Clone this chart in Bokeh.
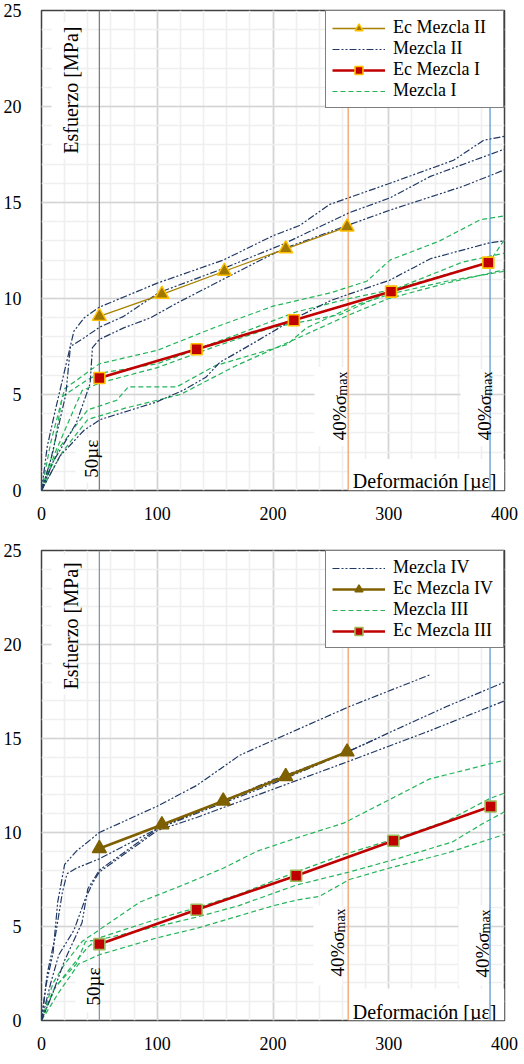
from math import pi
from bokeh.plotting import figure
from bokeh.models import Range1d, SingleIntervalTicker, Legend, LegendItem
from bokeh.layouts import column
from bokeh.core.properties import value
from bokeh.embed import file_html
from bokeh.resources import INLINE

SERIF = "Liberation Serif"

# ---------------- data: chart 1 ----------------
ec2_x = [50, 104, 158, 211, 264]
ec2_y = [9.07, 10.22, 11.42, 12.59, 13.73]
ec1_x = [50, 134, 218, 302, 386]
ec1_y = [5.86, 7.36, 8.87, 10.36, 11.87]

m2a_x = [0, 5, 12, 28, 37, 50, 100, 157, 200, 223, 249, 301, 356, 382, 400]
m2a_y = [0, 2.3, 4.2, 8.3, 9.0, 9.55, 10.8, 12.0, 13.27, 13.8, 14.9, 16.0, 17.2, 18.24, 18.45]
m2b_x = [0, 8, 21, 25, 37, 50, 71, 94, 101, 157, 209, 266, 301, 336, 400]
m2b_y = [0, 1.6, 5.0, 7.5, 7.96, 8.5, 9.07, 10.0, 10.3, 11.56, 12.84, 14.47, 15.24, 16.36, 17.78]
m2c_x = [0, 10, 30, 42, 44, 50, 71, 94, 117, 186, 209, 264, 301, 364, 400]
m2c_y = [0, 1.5, 3.5, 5.56, 7.44, 7.87, 8.47, 8.99, 9.76, 11.9, 12.59, 13.8, 14.6, 15.84, 16.7]
m2d_x = [0, 16, 37, 51, 99, 122, 142, 154, 186, 220, 250, 301, 336, 387, 400]
m2d_y = [0, 1.8, 3.15, 3.7, 4.6, 5.21, 5.9, 6.67, 7.78, 9.0, 9.9, 10.96, 12.07, 12.9, 13.0]

m1a_x = [0, 8, 20, 50, 100, 150, 200, 250, 281, 301, 344, 379, 400]
m1a_y = [0, 2.5, 5.3, 6.6, 7.3, 8.5, 9.6, 10.3, 10.9, 12.0, 13.0, 14.1, 14.3]
m1b_x = [0, 10, 18, 38, 50, 100, 168, 220, 266, 306, 364, 387, 400]
m1b_y = [0, 2.0, 4.9, 5.7, 6.1, 6.6, 8.1, 9.3, 10.0, 10.5, 11.5, 11.9, 13.07]
m1c_x = [0, 12, 35, 50, 100, 150, 200, 258, 307, 364, 400]
m1c_y = [0, 2.0, 5.2, 5.6, 6.4, 7.5, 8.5, 9.16, 10.53, 11.9, 12.36]
m1d_x = [0, 15, 40, 65, 75, 117, 150, 212, 229, 272, 304, 350, 400]
m1d_y = [0, 2.2, 4.2, 4.7, 5.4, 5.4, 6.5, 7.6, 8.47, 9.67, 10.27, 10.9, 11.42]
m1e_x = [0, 18, 40, 51, 73, 120, 168, 220, 260, 300, 350, 400]
m1e_y = [0, 2.0, 3.7, 3.9, 4.3, 5.0, 6.5, 7.9, 9.0, 10.0, 10.8, 11.5]

# ---------------- data: chart 2 ----------------
ec4_x = [50, 104, 157, 211, 264]
ec4_y = [9.15, 10.41, 11.68, 12.98, 14.29]
ec3_x = [50, 134, 220, 304, 388]
ec3_y = [4.06, 5.89, 7.70, 9.56, 11.38]

m4a_x = [0, 4, 10, 14, 20, 30, 50, 100, 134, 171, 200, 266, 336]
m4a_y = [0, 1.9, 3.6, 6.3, 8.3, 9.0, 10.0, 11.4, 12.5, 14.1, 14.9, 16.7, 18.4]
m4b_x = [0, 5, 12, 18, 22, 30, 50, 100, 150, 200, 265, 300, 350, 400]
m4b_y = [0, 2.5, 4.5, 6.8, 7.8, 8.1, 8.6, 10.2, 11.5, 12.8, 14.3, 15.3, 16.7, 18.0]
m4c_x = [0, 8, 15, 28, 38, 45, 50, 100, 134, 200, 266, 335, 400]
m4c_y = [0, 2.0, 3.5, 4.8, 6.5, 7.4, 7.9, 10.1, 10.8, 12.3, 13.8, 15.4, 17.0]
m4d_x = [0, 10, 20, 35, 40, 50, 100, 150, 200, 250, 290]
m4d_y = [0, 1.5, 3.2, 5.2, 7.0, 8.0, 10.2, 11.4, 12.6, 13.9, 15.0]

m3a_x = [0, 10, 20, 35, 47, 85, 122, 157, 186, 220, 261, 307, 335, 400]
m3a_y = [0, 2.0, 3.0, 4.2, 4.7, 6.3, 7.2, 8.1, 9.0, 9.7, 10.5, 11.95, 12.84, 13.85]
m3b_x = [0, 10, 25, 40, 50, 100, 134, 170, 220, 260, 307, 350, 387, 400]
m3b_y = [0, 1.6, 2.8, 3.9, 4.4, 5.4, 6.0, 6.7, 7.9, 8.8, 9.7, 10.6, 11.8, 12.1]
m3c_x = [0, 12, 30, 38, 50, 100, 134, 170, 220, 266, 307, 355, 382, 400]
m3c_y = [0, 1.8, 3.0, 4.2, 4.3, 5.0, 5.5, 6.1, 7.2, 7.9, 8.6, 9.5, 10.5, 11.1]
m3d_x = [0, 15, 32, 50, 100, 134, 200, 220, 240, 266, 300, 350, 400]
m3d_y = [0, 1.5, 3.0, 3.5, 4.4, 4.9, 6.1, 6.4, 6.6, 7.5, 8.1, 8.9, 9.9]

# reference vertical lines (strain values)
ref_x = [50, 265, 387.5]

NAVY = "#203864"
GREEN = "#23B45A"
RED = "#C00000"
ORANGE = "#F4B183"
BLUE = "#5B9BD5"


def make_chart(ftop, fh, frame_h, border_top, border_bottom, line50_color,
               ec_hi, ec_lo, hi_curves, lo_curves, hi_style, names, legend_order,
               boxes, labels):
    p = figure(frame_width=463, frame_height=frame_h, output_backend="svg",
               toolbar_location=None, x_range=Range1d(0, 400), y_range=Range1d(0, 25),
               min_border_left=37, min_border_right=16,
               min_border_top=border_top, min_border_bottom=border_bottom,
               background_fill_color="white", border_fill_color="white")
    p.outline_line_color = "#404040"
    p.outline_line_width = 1.5
    p.xaxis.ticker = SingleIntervalTicker(interval=100, num_minor_ticks=5)
    p.yaxis.ticker = SingleIntervalTicker(interval=5, num_minor_ticks=5)
    for ax in (p.xaxis[0], p.yaxis[0]):
        ax.axis_line_color = None
        ax.major_tick_line_color = None
        ax.minor_tick_line_color = None
        ax.major_label_text_font = SERIF
        ax.major_label_text_font_size = "18px"
        ax.major_label_text_color = "black"
    p.xaxis.major_label_standoff = 10
    p.yaxis.major_label_standoff = 14
    for g in (p.xgrid[0], p.ygrid[0]):
        g.grid_line_color = "#D4D4D4"
        g.grid_line_width = 1.6
        g.minor_grid_line_color = "#EFEFEF"
        g.minor_grid_line_width = 1.6

    def d(px, py):
        return (px - 45) * 400 / 463, (ftop + fh - py) * 25 / fh

    L, R, B, T = [], [], [], []
    for (x0, y0, x1, y1) in boxes:
        a = d(x0, y1)
        b = d(x1, y0)
        L.append(a[0]); B.append(a[1]); R.append(b[0]); T.append(b[1])
    p.quad(left=L, right=R, bottom=B, top=T, fill_color="white", line_color=None)

    p.segment(x0=ref_x[:1], y0=[0], x1=ref_x[:1], y1=[25], line_color=line50_color, line_width=1.3)
    p.segment(x0=ref_x[1:2], y0=[0], x1=ref_x[1:2], y1=[25], line_color=ORANGE, line_width=1.6)
    p.segment(x0=ref_x[2:], y0=[0], x1=ref_x[2:], y1=[25], line_color=BLUE, line_width=1.3)

    lo_r = []
    for (cx, cy) in lo_curves:
        lo_r.append(p.line(cx, cy, line_color=GREEN, line_width=1.2, line_dash="5 3"))
    hi_r = []
    for (cx, cy) in hi_curves:
        hi_r.append(p.line(cx, cy, line_color=NAVY, line_width=1.2, line_dash="7 2 2 2 2 2"))

    (lx, ly, lname, lsq_line) = ec_lo
    r1 = p.line(lx, ly, line_color=RED, line_width=2.6)
    r2 = p.scatter(lx, ly, marker="square", size=11, fill_color=RED, line_color=lsq_line, line_width=1.6)
    (hx, hy, hname) = ec_hi
    r3 = p.line(hx, hy, line_color=hi_style["line"], line_width=hi_style["lw"])
    r4 = p.scatter(hx, hy, marker="triangle", size=14, fill_color=hi_style["fill"],
                   line_color=hi_style["edge"], line_width=1.4)
    rend = {"ec_hi": (hname, [r3, r4]), "ec_lo": (lname, [r1, r2]),
            "hi": (names[0], [hi_r[0]]), "lo": (names[1], [lo_r[0]])}

    for (txt, px, py, size, align) in labels:
        x, y = d(px, py)
        ang = 0 if align == "right" else pi / 2
        p.text(x=[x], y=[y], text=[txt], angle=ang, text_font=value(SERIF),
               text_font_size=value(size), text_align="right" if align == "right" else "left",
               text_baseline="alphabetic", text_color="black")

    items = [LegendItem(label=rend[k][0], renderers=rend[k][1]) for k in legend_order]
    leg = Legend(items=items, location="top_right", margin=0, padding=6, spacing=0,
                 label_height=20, glyph_height=20, glyph_width=53, label_standoff=8,
                 label_width=104,
                 label_text_font=SERIF, label_text_font_size="18px", label_text_color="black",
                 border_line_color="black", border_line_width=1.2,
                 background_fill_color="white", background_fill_alpha=1.0)
    p.add_layout(leg)
    return p


boxes1 = [(55, 24, 79, 162), (79, 444, 99, 490), (318, 373, 348, 453),
          (464, 375, 492, 453), (352, 466, 508, 498)]
labels1 = [("Esfuerzo [MPa]", 74, 157, "20px", "up"),
           ("50µε", 95, 485, "19px", "up"),
           ("Deformación [µε]", 500, 488, "20px", "right"),
           ("40%σ", 343, 447, "19px", "up"), ("max", 346, 402, "14px", "up"),
           ("40%σ", 488, 447, "19px", "up"), ("max", 491, 402, "14px", "up")]
p1 = make_chart(12, 486, 480, 10, 37, "#7F7F7F",
                (ec2_x, ec2_y, "Ec Mezcla II"), (ec1_x, ec1_y, "Ec Mezcla I", "#FFC000"),
                [(m2a_x, m2a_y), (m2b_x, m2b_y), (m2c_x, m2c_y), (m2d_x, m2d_y)],
                [(m1a_x, m1a_y), (m1b_x, m1b_y), (m1c_x, m1c_y), (m1d_x, m1d_y), (m1e_x, m1e_y)],
                {"line": "#A88000", "lw": 1.3, "fill": "#A07800", "edge": "#FFC000"},
                ("Mezcla II", "Mezcla I"),
                ["ec_hi", "hi", "ec_lo", "lo"], boxes1, labels1)

boxes2 = [(55, 562, 79, 702), (79, 975, 100, 1020), (317, 913, 346, 993),
          (462, 913, 492, 993), (352, 996, 508, 1028)]
labels2 = [("Esfuerzo [MPa]", 74, 697, "20px", "up"),
           ("50µε", 97, 1013, "19px", "up"),
           ("Deformación [µε]", 500, 1019, "20px", "right"),
           ("40%σ", 341, 984, "19px", "up"), ("max", 344, 940, "14px", "up"),
           ("40%σ", 486, 985, "19px", "up"), ("max", 489, 941, "14px", "up")]
p2 = make_chart(558, 470, 470, 23, 29, "#8497B0",
                (ec4_x, ec4_y, "Ec Mezcla IV"), (ec3_x, ec3_y, "Ec Mezcla III", "#9BBB59"),
                [(m4a_x, m4a_y), (m4b_x, m4b_y), (m4c_x, m4c_y), (m4d_x, m4d_y)],
                [(m3a_x, m3a_y), (m3b_x, m3b_y), (m3c_x, m3c_y), (m3d_x, m3d_y)],
                {"line": "#7F6000", "lw": 2.6, "fill": "#7F6000", "edge": "#7F6000"},
                ("Mezcla IV", "Mezcla III"),
                ["hi", "ec_hi", "lo", "ec_lo"], boxes2, labels2)

layout = column(p1, p2, spacing=0)
open("out.html", "w").write(file_html(layout, INLINE))
